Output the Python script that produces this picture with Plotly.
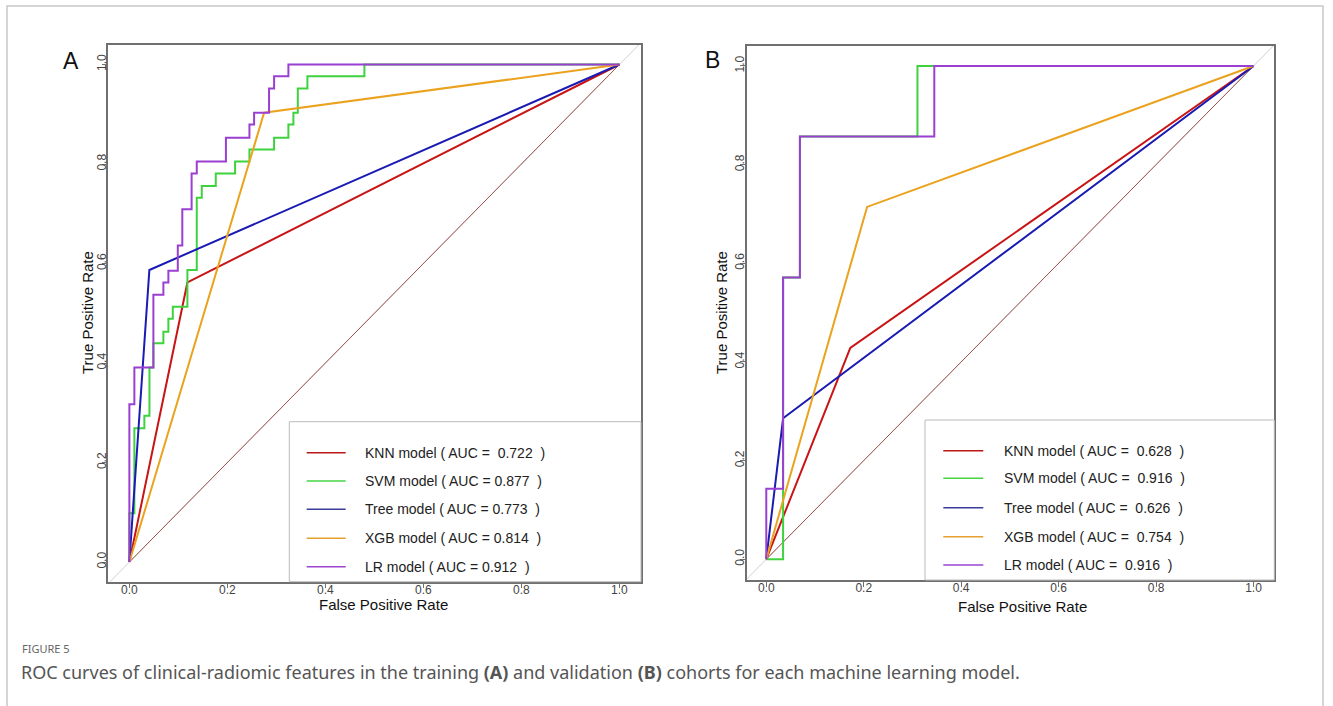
import plotly.graph_objects as go

# ---------------- data ----------------
models = ["KNN", "SVM", "Tree", "XGB", "LR"]

# Panel A (training cohort) ROC points
A_knn_fpr = [0, 0.1184, 1]
A_knn_tpr = [0, 0.562, 1]
A_svm_fpr = [0, 0, 0.0102, 0.0102, 0.0306, 0.0306, 0.041, 0.041, 0.049, 0.049, 0.0694, 0.0694,
             0.0796, 0.0796, 0.0886, 0.0886, 0.1184, 0.1184, 0.1375, 0.1375, 0.1477, 0.1477,
             0.1763, 0.1763, 0.2157, 0.2157, 0.245, 0.245, 0.2953, 0.2953, 0.3245, 0.3245,
             0.3347, 0.3347, 0.3437, 0.3437, 0.3633, 0.3633, 0.4796, 0.4796, 1]
A_svm_tpr = [0, 0.098, 0.098, 0.269, 0.269, 0.294, 0.294, 0.391, 0.391, 0.44, 0.44, 0.463,
             0.463, 0.489, 0.489, 0.513, 0.513, 0.587, 0.587, 0.732, 0.732, 0.756,
             0.756, 0.781, 0.781, 0.805, 0.805, 0.829, 0.829, 0.853, 0.853, 0.8795,
             0.8795, 0.903, 0.903, 0.952, 0.952, 0.9765, 0.9765, 1, 1]
A_tree_fpr = [0, 0.0408, 1]
A_tree_tpr = [0, 0.587, 1]
A_xgb_fpr = [0, 0.2749, 1]
A_xgb_tpr = [0, 0.903, 1]
A_lr_fpr = [0, 0, 0.0102, 0.0102, 0.049, 0.049, 0.0694, 0.0694, 0.0796, 0.0796, 0.0988, 0.0988,
            0.108, 0.108, 0.127, 0.127, 0.1375, 0.1375, 0.197, 0.197, 0.245, 0.245, 0.2545,
            0.2545, 0.285, 0.285, 0.2953, 0.2953, 0.3245, 0.3245, 1]
A_lr_tpr = [0, 0.317, 0.317, 0.391, 0.391, 0.537, 0.537, 0.562, 0.562, 0.5855, 0.5855, 0.636,
            0.636, 0.709, 0.709, 0.781, 0.781, 0.805, 0.805, 0.853, 0.853, 0.8795, 0.8795,
            0.903, 0.903, 0.952, 0.952, 0.9765, 0.9765, 1, 1]
A_auc = ["\u00a00.722", "0.877", "0.773", "0.814", "0.912"]

# Panel B (validation cohort) ROC points
B_knn_fpr = [0, 0.1724, 1]
B_knn_tpr = [0, 0.4286, 1]
B_svm_fpr = [0, 0.0345, 0.0345, 0.069, 0.069, 0.3103, 0.3103, 1]
B_svm_tpr = [0, 0, 0.5714, 0.5714, 0.8571, 0.8571, 1, 1]
B_tree_fpr = [0, 0.0345, 1]
B_tree_tpr = [0, 0.2857, 1]
B_xgb_fpr = [0, 0.2069, 1]
B_xgb_tpr = [0, 0.7143, 1]
B_lr_fpr = [0, 0, 0.0345, 0.0345, 0.069, 0.069, 0.3448, 0.3448, 1]
B_lr_tpr = [0, 0.1429, 0.1429, 0.5714, 0.5714, 0.8571, 0.8571, 1, 1]
B_auc = ["\u00a00.628", "\u00a00.916", "\u00a00.626", "\u00a00.754", "\u00a00.916"]

chance = [0, 1]
tick_vals = [0, 0.2, 0.4, 0.6, 0.8, 1.0]
tick_text = ["0.0", "0.2", "0.4", "0.6", "0.8", "1.0"]

colors = {"KNN": "#C81414", "SVM": "#3ED23E", "Tree": "#1A1AB4", "XGB": "#EBA21E", "LR": "#9B3FD2"}
legend_colors = {"KNN": "#B81818", "SVM": "#44D444", "Tree": "#3C3C9C", "XGB": "#E6A030", "LR": "#9A44D0"}

# ---------------- layout helpers ----------------
W, H = 1333, 706
def fx(px):
    return px / W
def fy(py):
    return 1 - py / H

A_xr = [-0.043, 1.044]
A_yr = [-0.0395, 1.0392]
B_xr = [-0.0406, 1.0426]
B_yr = [-0.0421, 1.0405]

fig = go.Figure()

panels = [
    ("x", "y", A_xr, A_yr,
     [(A_knn_fpr, A_knn_tpr), (A_svm_fpr, A_svm_tpr), (A_tree_fpr, A_tree_tpr),
      (A_xgb_fpr, A_xgb_tpr), (A_lr_fpr, A_lr_tpr)]),
    ("x2", "y2", B_xr, B_yr,
     [(B_knn_fpr, B_knn_tpr), (B_svm_fpr, B_svm_tpr), (B_tree_fpr, B_tree_tpr),
      (B_xgb_fpr, B_xgb_tpr), (B_lr_fpr, B_lr_tpr)]),
]

for xa, ya, xr, yr, curves in panels:
    lo = min(xr[0], yr[0]) - 0.05
    hi = max(xr[1], yr[1]) + 0.05
    fig.add_trace(go.Scatter(x=[lo, hi], y=[lo, hi], mode="lines", xaxis=xa, yaxis=ya,
                             line=dict(color="#CFCFCF", width=1), showlegend=False, hoverinfo="skip"))
    fig.add_trace(go.Scatter(x=chance, y=chance, mode="lines", xaxis=xa, yaxis=ya,
                             line=dict(color="#A0504C", width=1), showlegend=False, hoverinfo="skip"))
    for m, (fpr, tpr) in zip(models, curves):
        fig.add_trace(go.Scatter(x=fpr, y=tpr, mode="lines", xaxis=xa, yaxis=ya, name=m,
                                 line=dict(color=colors[m], width=2), showlegend=False))

axis_common = dict(showgrid=False, zeroline=False, showline=True, linecolor="#707070", linewidth=1.5,
                   mirror=True, ticks="outside", ticklen=5, tickwidth=1, tickcolor="#707070",
                   tickvals=tick_vals, ticktext=tick_text,
                   tickfont=dict(family="Liberation Sans, Arial", size=12, color="#444444"))

fig.update_layout(
    width=W, height=H, autosize=False,
    margin=dict(l=0, r=0, t=0, b=0),
    paper_bgcolor="white", plot_bgcolor="white",
    showlegend=False,
    xaxis=dict(domain=[fx(108.3), fx(641)], range=A_xr, anchor="y", ticklabelstandoff=-9, **axis_common),
    yaxis=dict(domain=[fy(581.7), fy(45)], range=A_yr, anchor="x", tickangle=-90, ticklabelstandoff=-9, **axis_common),
    xaxis2=dict(domain=[fx(746.5), fx(1274.3)], range=B_xr, anchor="y2", ticklabelstandoff=-9, **axis_common),
    yaxis2=dict(domain=[fy(580), fy(46)], range=B_yr, anchor="x2", tickangle=-90, ticklabelstandoff=-9, **axis_common),
)

shapes = []
annotations = []

# outer figure border (open at bottom)
shapes.append(dict(type="rect", xref="paper", yref="paper", x0=fx(7), x1=fx(1323), y0=fy(730), y1=fy(6),
                   line=dict(color="#C8C8C8", width=1.5), fillcolor="rgba(0,0,0,0)", layer="below"))

legend_specs = [
    # box left, top, right, bottom, line x0, line x1, text x, row ys, auc list
    (289.3, 421.7, 641, 581.7, 306.7, 345.7, 363.3, [452.7, 481.0, 509.3, 538.3, 566.7], A_auc),
    (925.0, 420.0, 1274.3, 580, 943.3, 983.3, 1001.7, [450.7, 478.3, 507.7, 536.7, 565.0], B_auc),
]
for bl, bt, br, bb, lx0, lx1, tx, rows, aucs in legend_specs:
    shapes.append(dict(type="rect", xref="paper", yref="paper", x0=fx(bl), x1=fx(br), y0=fy(bb), y1=fy(bt),
                       line=dict(color="#BBBBBB", width=1), fillcolor="white", layer="above"))
    for m, ry, auc in zip(models, rows, aucs):
        shapes.append(dict(type="line", xref="paper", yref="paper", x0=fx(lx0), x1=fx(lx1), y0=fy(ry), y1=fy(ry),
                           line=dict(color=legend_colors[m], width=1.5), layer="above"))
        annotations.append(dict(xref="paper", yref="paper", x=fx(tx), y=fy(ry), xanchor="left", yanchor="middle",
                                showarrow=False,
                                text=f"{m} model ( AUC = {auc}\u00a0\u00a0)",
                                font=dict(family="Liberation Sans, Arial", size=14, color="#222222")))

fig.update_layout(shapes=shapes)

# axis titles
title_font = dict(family="Liberation Sans, Arial", size=15, color="#111111")
for x, y, txt, ang in [(383, 604.5, "False Positive Rate", 0), (1022.5, 606, "False Positive Rate", 0),
                       (87, 313, "True Positive Rate", -90), (721, 313, "True Positive Rate", -90)]:
    annotations.append(dict(xref="paper", yref="paper", x=fx(x), y=fy(y), xanchor="center", yanchor="middle",
                            showarrow=False, text=txt, textangle=ang, font=title_font))

# panel letters
for x, y, txt in [(71, 61, "A"), (713, 60, "B")]:
    annotations.append(dict(xref="paper", yref="paper", x=fx(x), y=fy(y), xanchor="center", yanchor="middle",
                            showarrow=False, text=txt,
                            font=dict(family="Liberation Sans, Arial", size=23, color="#111111")))

# caption
annotations.append(dict(xref="paper", yref="paper", x=fx(20), y=fy(648), xanchor="left", yanchor="middle",
                        showarrow=False, text="FIGURE 5",
                        font=dict(family="Noto Sans", size=11, color="#666666")))
annotations.append(dict(xref="paper", yref="paper", x=fx(19), y=fy(672), xanchor="left", yanchor="middle",
                        showarrow=False,
                        text="ROC curves of clinical-radiomic features in the training <b>(A)</b> and validation "
                             "<b>(B)</b> cohorts for each machine learning model.",
                        font=dict(family="Noto Sans", size=18, color="#555555")))

fig.update_layout(annotations=annotations)
fig.write_html("out.html", config={"displayModeBar": False},
               post_script="document.body.style.margin='0';document.body.style.overflow='hidden';")
